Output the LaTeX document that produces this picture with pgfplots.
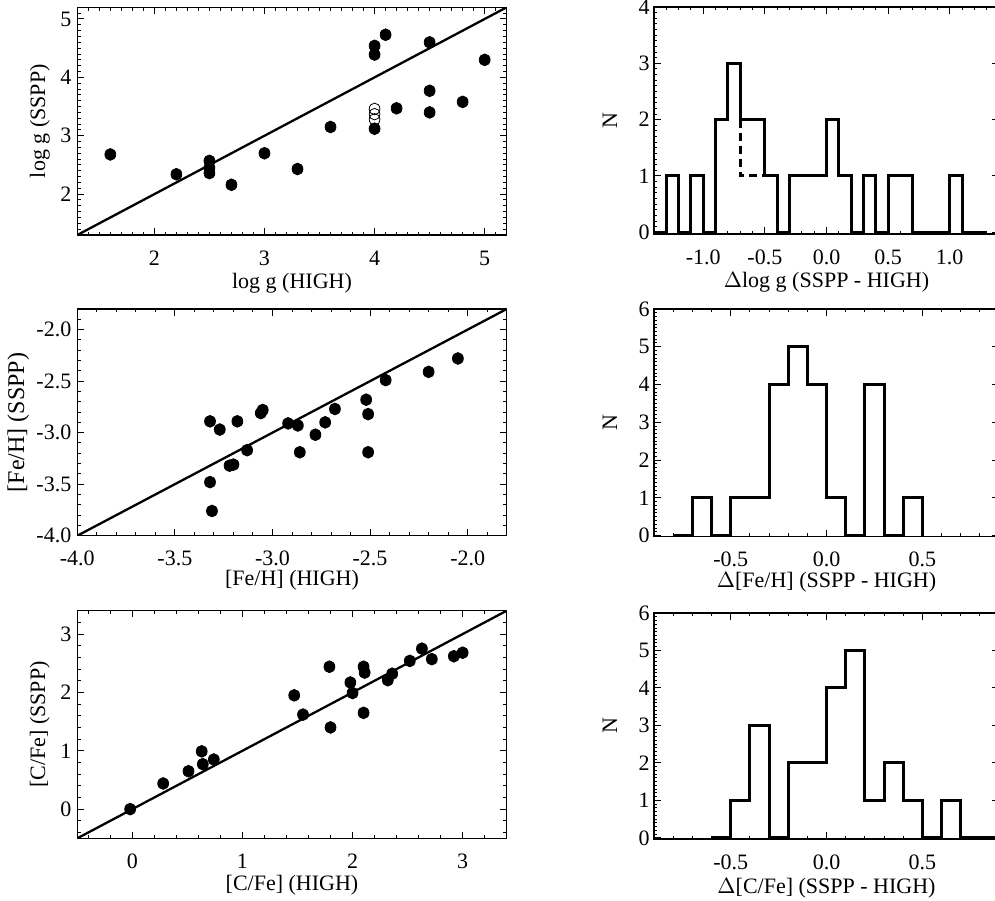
\documentclass[border=0pt]{standalone}
\usepackage{fontspec}
\setmainfont{Liberation Serif}
\usepackage{pgfplots}
\pgfplotsset{compat=1.18}
\begin{document}
\begin{tikzpicture}
\useasboundingbox (0,0) rectangle (497.5pt,-450pt);
\pgfplotsset{
  every axis/.append style={
    scale only axis,
    anchor=north west,
    font=\fontsize{11}{13}\selectfont,
    axis line style={line width=0.65pt},
    tick style={line width=0.5pt, black},
    major tick length=3.3pt,
    minor tick length=1.7pt,
    xticklabel style={anchor=center, inner sep=0pt, yshift=-11.5pt},
    /pgf/number format/assume math mode=true,
  },
  scat/.style={width=214.7pt,
    yticklabel style={anchor=east, inner sep=0pt, xshift=-2.8pt},
    xlabel style={font=\fontsize{10}{12}\selectfont}},
  hist/.style={width=172.5pt,
    yticklabel style={anchor=east, inner sep=0pt, xshift=-2pt},
    ymin=-0.03,
    xlabel style={font=\fontsize{11.5}{13}\selectfont},
    every axis y label/.style={at={(axis description cs:0,0.5)},xshift=-22pt,rotate=90,anchor=center},
    ylabel={N}},
  dot/.style={only marks, mark=*, mark size=2.95pt, black, mark options={xscale=0.92}},
  diag/.style={black, line width=1.15pt},
  hl/.style={const plot, black, line width=1.5pt},
}
% ---------- top left ----------
\begin{axis}[scat, at={(38.65pt,-3.65pt)}, height=113.85pt,
  xmin=1.3, xmax=5.2, ymin=1.3, ymax=5.2,
  xtick={2,3,4,5}, ytick={2,3,4,5},
  minor xtick={1.4,1.5,...,5.15}, minor ytick={1.4,1.5,...,5.15},
  xlabel={log g (HIGH)}, ylabel={log g (SSPP)},
  every axis x label/.style={at={(axis description cs:0.5,0)},anchor=center,yshift=-24pt},
  every axis y label/.style={at={(axis description cs:0,0.5)},xshift=-18.7pt,rotate=90,anchor=center}]
\addplot[diag] coordinates {(1.3,1.3) (5.2,5.2)};
\addplot[dot] coordinates {
(1.6,2.68) (2.2,2.34) (2.5,2.57) (2.5,2.45) (2.5,2.36) (2.7,2.16) (3.0,2.70)
(3.3,2.43) (3.6,3.15) (4.0,4.54) (4.0,4.39) (4.0,3.12) (4.1,4.73) (4.2,3.47)
(4.5,4.60) (4.5,3.77) (4.5,3.40) (4.8,3.58) (5.0,4.30)};
\addplot[only marks, mark=o, mark size=2.9pt, black, mark options={xscale=0.92, line width=0.4pt}] coordinates {
(4.0,3.46) (4.0,3.37) (4.0,3.28)};
\end{axis}
% ---------- top right ----------
\begin{axis}[hist, at={(327pt,-3.5pt)}, height=113.5pt,
  xmin=-1.4, xmax=1.4, ymax=4,
  xtick={-1,-0.5,0,0.5,1}, xticklabels={-1.0,-0.5,0.0,0.5,1.0},
  ytick={0,1,2,3,4},
  minor xtick={-1.3,-1.2,...,1.35}, minor ytick={0.1,0.2,...,3.95},
  xlabel={$\Delta$log g (SSPP - HIGH)},
  every axis x label/.style={at={(axis description cs:0.5,0)},anchor=center,yshift=-24pt}]
\addplot[hl] coordinates {
(-1.4,0) (-1.3,1) (-1.2,0) (-1.1,1) (-1.0,0) (-0.9,2) (-0.8,3) (-0.7,2) (-0.6,2)
(-0.5,1) (-0.4,0) (-0.3,1) (-0.2,1) (-0.1,1) (0.0,2) (0.1,1) (0.2,0) (0.3,1)
(0.4,0) (0.5,1) (0.6,1) (0.7,0) (0.8,0) (0.9,0) (1.0,1) (1.1,0) (1.2,0) (1.3,0)};
\addplot[black, line width=1.5pt, dash pattern=on 4pt off 2.5pt] coordinates {(-0.7,2) (-0.7,1) (-0.5,1)};
\end{axis}
% ---------- middle left ----------
\begin{axis}[scat, at={(38.65pt,-154.5pt)}, height=113.35pt,
  xmin=-4, xmax=-1.8, ymin=-4, ymax=-1.8,
  xtick={-4,-3.5,-3,-2.5,-2}, xticklabels={-4.0,-3.5,-3.0,-2.5,-2.0},
  ytick={-4,-3.5,-3,-2.5,-2}, yticklabels={-4.0,-3.5,-3.0,-2.5,-2.0},
  minor xtick={-3.9,-3.8,...,-1.85}, minor ytick={-3.9,-3.8,...,-1.85},
  xlabel={[Fe/H] (HIGH)}, ylabel={[Fe/H] (SSPP)},
  every axis x label/.style={at={(axis description cs:0.5,0)},anchor=center,yshift=-22.5pt},
  every axis y label/.style={at={(axis description cs:0,0.5)},xshift=-29.5pt,rotate=90,anchor=center,font=\fontsize{12}{14}\selectfont}]
\addplot[diag] coordinates {(-4,-4) (-1.8,-1.8)};
\addplot[dot] coordinates {
(-3.32,-2.89) (-3.27,-2.97) (-3.18,-2.89) (-3.06,-2.81) (-3.05,-2.78) (-3.32,-3.48)
(-3.31,-3.76) (-3.22,-3.32) (-3.20,-3.31) (-3.13,-3.17) (-2.92,-2.91) (-2.87,-2.93)
(-2.86,-3.19) (-2.78,-3.02) (-2.73,-2.90) (-2.68,-2.77) (-2.52,-2.68) (-2.51,-2.82)
(-2.51,-3.19) (-2.42,-2.49) (-2.20,-2.41) (-2.05,-2.28)};
\end{axis}
% ---------- middle right ----------
\begin{axis}[hist, at={(327pt,-154.5pt)}, height=113.85pt,
  xmin=-0.9, xmax=0.9, ymax=6,
  xtick={-0.5,0,0.5}, xticklabels={-0.5,0.0,0.5},
  ytick={0,1,2,3,4,5,6},
  minor xtick={-0.8,-0.7,...,0.85}, minor ytick={0.1,0.2,...,5.95},
  xlabel={$\Delta$[Fe/H] (SSPP - HIGH)},
  every axis x label/.style={at={(axis description cs:0.5,0)},anchor=center,yshift=-22.7pt}]
\addplot[hl] coordinates {
(-0.8,0) (-0.7,1) (-0.6,0) (-0.5,1) (-0.4,1) (-0.3,4) (-0.2,5) (-0.1,4) (0.0,1)
(0.1,0) (0.2,4) (0.3,0) (0.4,1) (0.5,0)};
\end{axis}
% ---------- bottom left ----------
\begin{axis}[scat, at={(38.65pt,-305.35pt)}, height=113.8pt,
  xmin=-0.5, xmax=3.4, ymin=-0.5, ymax=3.4,
  xtick={0,1,2,3}, ytick={0,1,2,3},
  minor xtick={-0.4,-0.2,...,3.35}, minor ytick={-0.4,-0.2,...,3.35},
  xlabel={[C/Fe] (HIGH)}, ylabel={[C/Fe] (SSPP)},
  every axis x label/.style={at={(axis description cs:0.5,0)},anchor=center,yshift=-23.5pt},
  every axis y label/.style={at={(axis description cs:0,0.5)},xshift=-18.7pt,rotate=90,anchor=center}]
\addplot[diag] coordinates {(-0.5,-0.5) (3.4,3.4)};
\addplot[dot] coordinates {
(-0.02,0.0) (0.28,0.44) (0.51,0.65) (0.63,0.99) (0.64,0.77) (0.74,0.85) (1.47,1.95)
(1.55,1.62) (1.79,2.44) (1.80,1.40) (1.98,2.17) (2.0,1.99) (2.10,1.65) (2.10,2.44)
(2.11,2.34) (2.32,2.21) (2.36,2.32) (2.52,2.54) (2.63,2.75) (2.72,2.57) (2.92,2.62)
(3.0,2.68)};
\end{axis}
% ---------- bottom right ----------
\begin{axis}[hist, at={(327pt,-306.5pt)}, height=113pt,
  xmin=-0.9, xmax=0.9, ymax=6,
  xtick={-0.5,0,0.5}, xticklabels={-0.5,0.0,0.5},
  ytick={0,1,2,3,4,5,6},
  minor xtick={-0.8,-0.7,...,0.85}, minor ytick={0.1,0.2,...,5.95},
  xlabel={$\Delta$[C/Fe] (SSPP - HIGH)},
  every axis x label/.style={at={(axis description cs:0.5,0)},anchor=center,yshift=-24.5pt}]
\addplot[hl] coordinates {
(-0.6,0) (-0.5,1) (-0.4,3) (-0.3,0) (-0.2,2) (-0.1,2) (0.0,4) (0.1,5) (0.2,1)
(0.3,2) (0.4,1) (0.5,0) (0.6,1) (0.7,0) (0.9,0)};
\end{axis}
\end{tikzpicture}
\end{document}
